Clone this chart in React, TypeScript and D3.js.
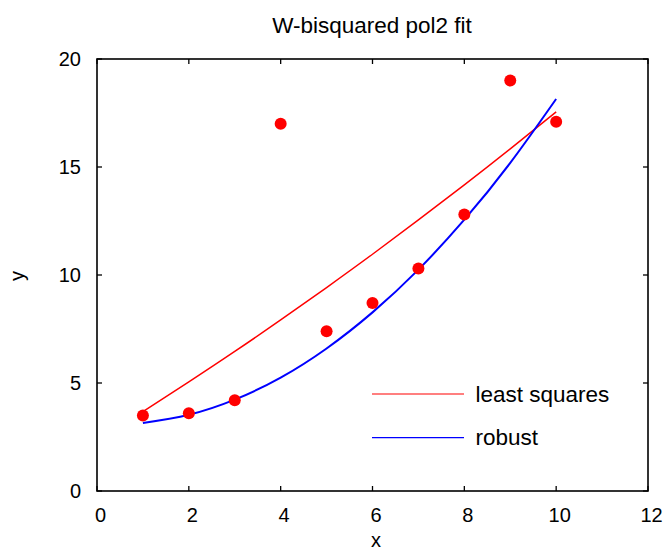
import React from "react";
import * as d3 from "d3";

const title = "W-bisquared pol2 fit";
const xTicks = [0, 2, 4, 6, 8, 10, 12];
const yTicks = [0, 5, 10, 15, 20];
const dataX = [1, 2, 3, 4, 5, 6, 7, 8, 9, 10];
const dataY = [3.5, 3.6, 4.2, 17, 7.4, 8.7, 10.3, 12.8, 19, 17.1];
const fitX = [1, 2, 3, 4, 5, 6, 7, 8, 9, 10];
const leastSquaresY = [3.67, 5.05, 6.46, 7.92, 9.42, 10.96, 12.55, 14.17, 15.84, 17.55];
const robustY = [3.15, 3.53, 4.23, 5.25, 6.6, 8.27, 10.25, 12.56, 15.19, 18.15];
const legendLabels = ["least squares", "robust"];

const W = 665;
const H = 557;
const left = 97, right = 648, top = 59, bottom = 491;
const FONT = "'Liberation Sans', Arial, Helvetica, sans-serif";

export default function App() {
  const x = d3.scaleLinear().domain([0, 12]).range([left, right]);
  const y = d3.scaleLinear().domain([0, 20]).range([bottom, top]);
  const line = d3
    .line<[number, number]>()
    .x((d) => x(d[0]))
    .y((d) => y(d[1]))
    .curve(d3.curveNatural);
  const lsPts = fitX.map((v, i) => [v, leastSquaresY[i]] as [number, number]);
  const rbPts = fitX.map((v, i) => [v, robustY[i]] as [number, number]);
  const tick = 5;
  const legendItems = [
    { label: legendLabels[0], color: "#ff0000", y: 394 },
    { label: legendLabels[1], color: "#0000ff", y: 437.7 },
  ];

  return (
    <svg
      width={W}
      height={H}
      style={{ position: "absolute", left: 0, top: 0, background: "#fff" }}
      fontFamily={FONT}
    >
      <rect x={0} y={0} width={W} height={H} fill="#fff" />
      <text x={372} y={33} textAnchor="middle" fontSize={22.5} fill="#000">
        {title}
      </text>

      {/* curves */}
      <path d={line(lsPts) || ""} fill="none" stroke="#ff0000" strokeWidth={1.5} />
      <path d={line(rbPts) || ""} fill="none" stroke="#0000ff" strokeWidth={2} />

      {/* points */}
      {dataX.map((v, i) => (
        <circle key={i} cx={x(v)} cy={y(dataY[i])} r={6} fill="#ff0000" />
      ))}

      {/* frame */}
      <rect
        x={left}
        y={top}
        width={right - left}
        height={bottom - top}
        fill="none"
        stroke="#000"
        strokeWidth={1.6}
      />

      {/* x ticks */}
      {xTicks.map((t) => (
        <g key={"x" + t}>
          <line x1={x(t)} x2={x(t)} y1={bottom} y2={bottom - tick} stroke="#000" strokeWidth={1.3} />
          <line x1={x(t)} x2={x(t)} y1={top} y2={top + tick} stroke="#000" strokeWidth={1.3} />
          <text x={x(t) + 3.5} y={522} textAnchor="middle" fontSize={20} fill="#000">
            {t}
          </text>
        </g>
      ))}

      {/* y ticks */}
      {yTicks.map((t) => (
        <g key={"y" + t}>
          <line x1={left} x2={left + tick} y1={y(t)} y2={y(t)} stroke="#000" strokeWidth={1.3} />
          <line x1={right} x2={right - tick} y1={y(t)} y2={y(t)} stroke="#000" strokeWidth={1.3} />
          <text x={81} y={y(t) + 7} textAnchor="end" fontSize={20} fill="#000">
            {t}
          </text>
        </g>
      ))}

      {/* axis titles */}
      <text x={376} y={547} textAnchor="middle" fontSize={20} fill="#000">
        x
      </text>
      <text
        transform={`translate(24, ${276}) rotate(-90)`}
        textAnchor="middle"
        fontSize={20}
        fill="#000"
      >
        y
      </text>

      {/* legend */}
      {legendItems.map((it) => (
        <g key={it.label}>
          <line x1={372} x2={464} y1={it.y} y2={it.y} stroke={it.color} strokeWidth={1.2} />
          <text x={475.5} y={it.y + 7.5} fontSize={22.5} fill="#000">
            {it.label}
          </text>
        </g>
      ))}
    </svg>
  );
}
